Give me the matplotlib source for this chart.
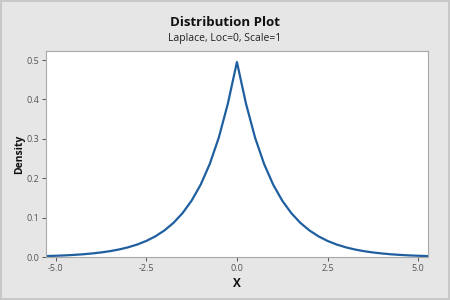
import matplotlib.pyplot as plt
from matplotlib.ticker import FormatStrFormatter

# Laplace(0, 1) density
x_vals = [-5.3, -5.0, -4.75, -4.5, -4.25, -4.0, -3.75, -3.5, -3.25, -3.0,
          -2.75, -2.5, -2.25, -2.0, -1.75, -1.5, -1.25, -1.0, -0.75, -0.5,
          -0.25, 0.0, 0.25, 0.5, 0.75, 1.0, 1.25, 1.5, 1.75, 2.0,
          2.25, 2.5, 2.75, 3.0, 3.25, 3.5, 3.75, 4.0, 4.25, 4.5,
          4.75, 5.0, 5.3]
density = [0.0025, 0.0034, 0.0043, 0.0056, 0.0071, 0.0092, 0.0118, 0.0151, 0.0194, 0.0249,
           0.0320, 0.0410, 0.0527, 0.0677, 0.0869, 0.1116, 0.1433, 0.1839, 0.2362, 0.3033,
           0.3894, 0.4950, 0.3894, 0.3033, 0.2362, 0.1839, 0.1433, 0.1116, 0.0869, 0.0677,
           0.0527, 0.0410, 0.0320, 0.0249, 0.0194, 0.0151, 0.0118, 0.0092, 0.0071, 0.0056,
           0.0043, 0.0034, 0.0025]
x_ticks = [-5.0, -2.5, 0.0, 2.5, 5.0]
y_ticks = [0.0, 0.1, 0.2, 0.3, 0.4, 0.5]

plt.rcParams['font.family'] = ['Open Sans', 'DejaVu Sans']

fig = plt.figure(figsize=(4.5, 3), dpi=100, facecolor='#e6e6e6',
                 edgecolor='#c8c8c8', linewidth=1.5)
ax = fig.add_axes([0.102, 0.143, 0.849, 0.687])
ax.set_facecolor('white')

ax.plot(x_vals, density, color='#1f5fa0', linewidth=1.6)

ax.set_xlim(-5.27, 5.27)
ax.set_ylim(0, 0.523)
ax.set_xticks(x_ticks)
ax.set_yticks(y_ticks)
ax.xaxis.set_major_formatter(FormatStrFormatter('%.1f'))
ax.yaxis.set_major_formatter(FormatStrFormatter('%.1f'))
ax.tick_params(labelsize=6.5, colors='#555555', length=3, width=0.7, pad=2)
for s in ax.spines.values():
    s.set_color('#a8a8a8')
    s.set_linewidth(0.8)

ax.set_xlabel('X', fontsize=8.5, fontweight='bold', color='#111111', labelpad=3)
ax.set_ylabel('Density', fontsize=7.5, fontweight='bold', color='#111111', labelpad=1)

fig.text(0.5, 0.925, 'Distribution Plot', ha='center', va='center',
         fontsize=9.5, fontweight='bold', color='#111111')
fig.text(0.5, 0.872, 'Laplace, Loc=0, Scale=1', ha='center', va='center',
         fontsize=7.5, color='#222222')

fig.savefig('out.png', dpi=100, facecolor=fig.get_facecolor(),
            edgecolor=fig.get_edgecolor())
